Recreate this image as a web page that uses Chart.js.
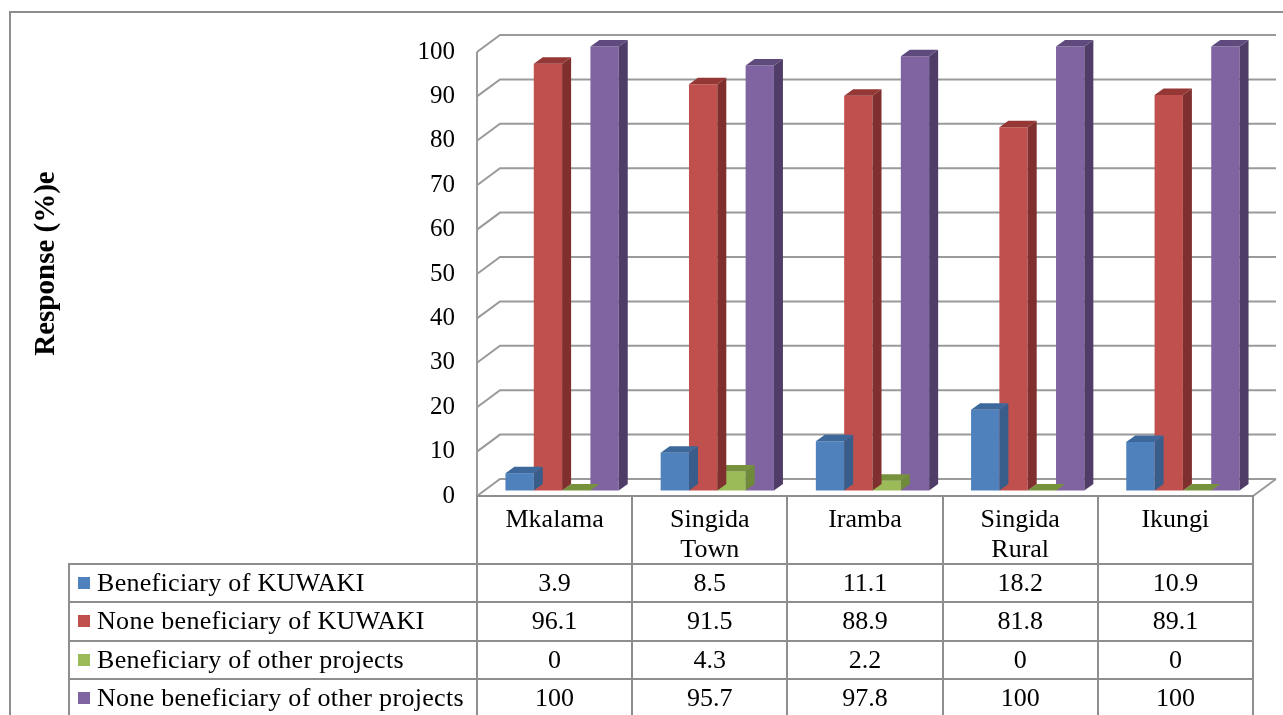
<!DOCTYPE html>
<html>
<head>
<meta charset="utf-8">
<title>Response by district</title>
<script src="https://cdn.jsdelivr.net/npm/chart.js@4.4.1/dist/chart.umd.min.js"></script>
<style>
  html, body { margin: 0; padding: 0; background: #ffffff; }
  #wrap { position: relative; width: 1283px; height: 715px; overflow: hidden;
          font-family: "Liberation Serif", "Times New Roman", serif; color: #000; }
  #frame { position: absolute; left: 9px; top: 11px; width: 1400px; height: 800px;
           border-left: 2px solid #8e8e8e; border-top: 2px solid #8e8e8e; box-sizing: border-box; }
  #chart { position: absolute; left: 0; top: 0; }
  .ln { position: absolute; background: #8e8e8e; }
  .cell { position: absolute; display: flex; align-items: center; justify-content: center;
          font-size: 26px; white-space: nowrap; }
  .head { position: absolute; text-align: center; font-size: 26px; line-height: 30px; }
  .key { position: absolute; display: flex; align-items: center; font-size: 26px;
         letter-spacing: 0.3px; white-space: nowrap; }
  .sw { width: 12px; height: 12px; margin-right: 7px; flex: none; }
</style>
</head>
<body>
<div id="wrap">
  <div id="frame"></div>
  <canvas id="chart" width="1283" height="715"></canvas>
  <div id="table"></div>
</div>
<script>
// Districts (header lines of the data table)
const districts = [['Mkalama'], ['Singida', 'Town'], ['Iramba'], ['Singida', 'Rural'], ['Ikungi']];

// Series names
const seriesNames = [
  'Beneficiary of KUWAKI',
  'None beneficiary of KUWAKI',
  'Beneficiary of other projects',
  'None beneficiary of other projects'
];

// Response (%) per district
const beneficiaryKuwaki = [3.9, 8.5, 11.1, 18.2, 10.9];
const noneBeneficiaryKuwaki = [96.1, 91.5, 88.9, 81.8, 89.1];
const beneficiaryOther = [0, 4.3, 2.2, 0, 0];
const noneBeneficiaryOther = [100, 95.7, 97.8, 100, 100];

// Value axis
const yMin = 0;
const yMax = 100;
const yStep = 10;
const yTitle = 'Response (%)e';

// Face colours: front, top, side
const palette = [
  { front: '#4f81bd', top: '#3d689c', side: '#385d8a' },
  { front: '#c0504d', top: '#953735', side: '#7f2f2d' },
  { front: '#9bbb59', top: '#76923c', side: '#6e8a3a' },
  { front: '#8064a2', top: '#5f4a7e', side: '#4f3d68' }
];

const GRID = '#9a9a9a';
const WALL = { dx: 23, dy: -17 };     // front edge of floor -> back wall
const SHIFT = { dx: 7.5, dy: -5.5 };  // front plane -> front face of columns
const DEPTH = { dx: 9, dy: -6.5 };    // thickness of a column

const seriesValues = [beneficiaryKuwaki, noneBeneficiaryKuwaki, beneficiaryOther, noneBeneficiaryOther];

// Walls, floor and gridlines drawn in oblique projection
const walls = {
  id: 'walls',
  beforeDatasetsDraw(chart) {
    const { ctx, chartArea: a, scales: { y } } = chart;
    const y0 = y.getPixelForValue(yMin);
    const yTop = y.getPixelForValue(yMax);
    ctx.save();
    ctx.strokeStyle = GRID;
    ctx.lineWidth = 2;
    ctx.beginPath();
    y.ticks.forEach(t => {
      const py = y.getPixelForValue(t.value);
      ctx.moveTo(a.left, py);
      ctx.lineTo(a.left + WALL.dx, py + WALL.dy);
      ctx.lineTo(a.right + WALL.dx, py + WALL.dy);
    });
    ctx.moveTo(a.left, yTop);
    ctx.lineTo(a.left, y0);
    ctx.lineTo(a.right, y0);
    ctx.lineTo(a.right + WALL.dx, y0 + WALL.dy);
    ctx.stroke();
    ctx.restore();
  }
};

// Columns: front faces come from the bar elements, tops and sides are added here
const columns3d = {
  id: 'columns3d',
  beforeDatasetDraw(chart) {
    chart.ctx.save();
    chart.ctx.translate(SHIFT.dx, SHIFT.dy);
  },
  afterDatasetDraw(chart, args) {
    const ctx = chart.ctx;
    const c = palette[args.index];
    args.meta.data.forEach(el => {
      const { x, y, base, width } = el.getProps(['x', 'y', 'base', 'width'], true);
      const l = x - width / 2, r = x + width / 2;
      ctx.fillStyle = c.side;
      ctx.beginPath();
      ctx.moveTo(r, y);
      ctx.lineTo(r + DEPTH.dx, y + DEPTH.dy);
      ctx.lineTo(r + DEPTH.dx, base + DEPTH.dy);
      ctx.lineTo(r, base);
      ctx.closePath();
      ctx.fill();
      ctx.fillStyle = c.top;
      ctx.beginPath();
      ctx.moveTo(l, y);
      ctx.lineTo(r, y);
      ctx.lineTo(r + DEPTH.dx, y + DEPTH.dy);
      ctx.lineTo(l + DEPTH.dx, y + DEPTH.dy);
      ctx.closePath();
      ctx.fill();
    });
    ctx.restore();
  }
};

// Rotated value-axis title
const axisTitle = {
  id: 'axisTitle',
  afterDraw(chart) {
    const { ctx } = chart;
    ctx.save();
    ctx.translate(53.5, 263.5);
    ctx.rotate(-Math.PI / 2);
    ctx.font = 'bold 29px "Liberation Serif", "Times New Roman", serif';
    ctx.fillStyle = '#000';
    ctx.textAlign = 'center';
    ctx.textBaseline = 'alphabetic';
    ctx.fillText(yTitle, 0, 0);
    ctx.restore();
  }
};

const chart = new Chart(document.getElementById('chart'), {
  type: 'bar',
  data: {
    labels: districts.map(d => d.join(' ')),
    datasets: seriesNames.map((name, i) => ({
      label: name,
      data: seriesValues[i],
      backgroundColor: palette[i].front,
      borderWidth: 0,
      clip: false,
      categoryPercentage: 0.73,
      barPercentage: 1.0
    }))
  },
  options: {
    responsive: false,
    animation: false,
    events: [],
    layout: { padding: { left: 0, top: 52, right: 30, bottom: 219 } },
    plugins: { legend: { display: false }, tooltip: { enabled: false }, title: { display: false } },
    scales: {
      x: { display: false },
      y: {
        min: yMin,
        max: yMax,
        ticks: {
          stepSize: yStep,
          padding: 22,
          color: '#000',
          font: { family: '"Liberation Serif", "Times New Roman", serif', size: 25 }
        },
        grid: { display: false, drawTicks: false },
        border: { display: false },
        afterFit(scale) { scale.width = 477; }
      }
    }
  },
  plugins: [walls, columns3d, axisTitle]
});

// Data table under the columns, aligned to the category scale
(function buildTable() {
  const a = chart.chartArea;
  const host = document.getElementById('table');
  const y0 = chart.scales.y.getPixelForValue(yMin);
  const colW = (a.right - a.left) / districts.length;
  const keyLeft = 69;
  const headH = 68;
  const rowH = 38.3;
  const rowTop = y0 + headH;
  const bottom = rowTop + rowH * seriesNames.length;

  const line = (x, y, w, h) => {
    const d = document.createElement('div');
    d.className = 'ln';
    d.style.left = x + 'px'; d.style.top = y + 'px';
    d.style.width = w + 'px'; d.style.height = h + 'px';
    host.appendChild(d);
  };

  for (let i = 0; i <= districts.length; i++) {
    line(a.left + i * colW - 1, y0 - 1, 2, bottom - y0 + 2);
  }
  line(keyLeft - 1, rowTop - 1, 2, bottom - rowTop + 2);
  line(a.left - 1, y0 - 1, a.right - a.left + 2, 2);
  for (let r = 0; r <= seriesNames.length; r++) {
    line(keyLeft - 1, rowTop + r * rowH - 1, a.right - keyLeft + 2, 2);
  }

  districts.forEach((lines, i) => {
    const d = document.createElement('div');
    d.className = 'head';
    d.style.left = (a.left + i * colW) + 'px';
    d.style.top = (y0 + 8) + 'px';
    d.style.width = colW + 'px';
    d.innerHTML = lines.join('<br>');
    host.appendChild(d);
  });

  seriesNames.forEach((name, r) => {
    const k = document.createElement('div');
    k.className = 'key';
    k.style.left = (keyLeft + 9) + 'px';
    k.style.top = (rowTop + r * rowH) + 'px';
    k.style.height = rowH + 'px';
    const sw = document.createElement('span');
    sw.className = 'sw';
    sw.style.background = palette[r].front;
    const tx = document.createElement('span');
    tx.textContent = name;
    k.appendChild(sw); k.appendChild(tx);
    host.appendChild(k);

    seriesValues[r].forEach((v, i) => {
      const c = document.createElement('div');
      c.className = 'cell';
      c.style.left = (a.left + i * colW) + 'px';
      c.style.top = (rowTop + r * rowH) + 'px';
      c.style.width = colW + 'px';
      c.style.height = rowH + 'px';
      c.textContent = String(v);
      host.appendChild(c);
    });
  });
})();
</script>
</body>
</html>
